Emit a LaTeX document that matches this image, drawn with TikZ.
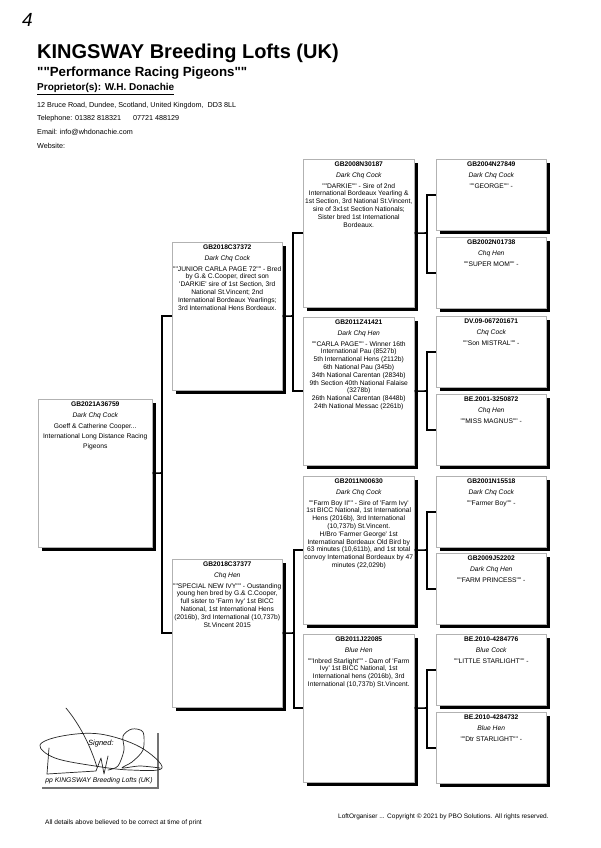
\documentclass[tikz,border=0pt]{standalone}
\usepackage{fontspec}
\setmainfont{Liberation Sans}[Ligatures=TeXOff]
\usetikzlibrary{shadows}
\newcommand{\pedtext}[6]{\parbox[c][#2][t]{#1}{\centering\fontsize{6.7}{#3}\selectfont\vspace*{2.7pt}{\bfseries #4}\\[\dimexpr10.7pt-#3\relax]{\itshape #5}\\[\dimexpr10.7pt-#3\relax]#6\par}}
\tikzset{
  pbox/.style={draw=black!30, line width=0.5pt, fill=white, inner sep=0pt, anchor=north west,
    drop shadow={shadow xshift=3.4pt, shadow yshift=-3.4pt, opacity=1, fill=black}},
  link/.style={line width=1.6pt, black},
  sig/.style={line width=0.7pt, black!85, line cap=round, line join=round},
  hdr/.style={anchor=base west, inner sep=0pt},
}
\begin{document}
\begin{tikzpicture}[x=1pt,y=-1pt]
\useasboundingbox (0,0) rectangle (600,848);
\fill[white] (0,0) rectangle (600,848);

% header
\node[hdr] (four) at (22,27) {\fontsize{19}{19}\selectfont\itshape 4};
\node[hdr] (title) at (37,58.3) {\fontsize{20}{20}\selectfont\bfseries KINGSWAY Breeding Lofts (UK)};
\node[hdr] (sub) at (37,76.5) {\fontsize{13.3}{14}\selectfont\bfseries ""Performance Racing Pigeons""};
\node[hdr] (prop) at (37,91) {\fontsize{10}{11}\selectfont\bfseries\underline{Proprietor(s): W.H. Donachie}};
\node[hdr] (addr) at (37,107.5) {\fontsize{7.2}{8}\selectfont 12 Bruce Road, Dundee, Scotland, United Kingdom,\ \ DD3 8LL};
\node[hdr] (tel) at (37,121) {\fontsize{7.2}{8}\selectfont Telephone: 01382 818321\hspace{12pt}07721 488129};
\node[hdr] (mail) at (37,134.5) {\fontsize{7.2}{8}\selectfont Email: info@whdonachie.com};
\node[hdr] (web) at (37,148) {\fontsize{7.2}{8}\selectfont Website:};

% generation 1
\node[pbox] (g1) at (38,399) {\pedtext{114pt}{148pt}{10.3pt}{GB2021A36759}{Dark Chq Cock}{Goeff \& Catherine Cooper...\\International Long Distance Racing\\Pigeons}};

% generation 2
\node[pbox] (g2a) at (172,242) {\pedtext{110pt}{148pt}{7.8pt}{GB2018C37372}{Dark Chq Cock}{""JUNIOR CARLA PAGE 72"" - Bred\\by G.\& C.Cooper, direct son\\'DARKIE' sire of 1st Section, 3rd\\National St.Vincent; 2nd\\International Bordeaux Yearlings;\\3rd International Hens Bordeaux.}};
\node[pbox] (g2b) at (172,559) {\pedtext{110pt}{148pt}{7.8pt}{GB2018C37377}{Chq Hen}{""SPECIAL NEW IVY"" - Oustanding\\young hen bred by G.\& C.Cooper,\\full sister to 'Farm Ivy' 1st BICC\\National, 1st International Hens\\(2016b), 3rd International (10,737b)\\St.Vincent 2015}};

% generation 3
\node[pbox] (g3a) at (303,159) {\pedtext{111pt}{148pt}{7.8pt}{GB2008N30187}{Dark Chq Cock}{""DARKIE"" - Sire of 2nd\\International Bordeaux Yearling \&\\1st Section, 3rd National St.Vincent,\\sire of 3x1st Section Nationals;\\Sister bred 1st International\\Bordeaux.}};
\node[pbox] (g3b) at (303,317) {\pedtext{111pt}{148pt}{7.8pt}{GB2011Z41421}{Dark Chq Hen}{""CARLA PAGE"" - Winner 16th\\International Pau (8527b)\\5th International Hens (2112b)\\6th National Pau (345b)\\34th National Carentan (2834b)\\9th Section 40th National Falaise\\(3278b)\\26th National Carentan (8448b)\\24th National Messac (2261b)}};
\node[pbox] (g3c) at (303,476) {\pedtext{111pt}{148pt}{7.8pt}{GB2011N00630}{Dark Chq Cock}{""Farm Boy II"" - Sire of 'Farm Ivy'\\1st BICC National, 1st International\\Hens (2016b), 3rd International\\(10,737b) St.Vincent.\\H/Bro 'Farmer George' 1st\\International Bordeaux Old Bird by\\63 minutes (10,611b), and 1st total\\convoy International Bordeaux by 47\\minutes (22,029b)}};
\node[pbox] (g3d) at (303,634) {\pedtext{111pt}{148pt}{7.8pt}{GB2011J22085}{Blue Hen}{""Inbred Starlight"" - Dam of 'Farm\\Ivy' 1st BICC National, 1st\\International hens (2016b), 3rd\\International (10,737b) St.Vincent.}};

% generation 4
\node[pbox] (g4a) at (436,159) {\pedtext{110pt}{71pt}{7.8pt}{GB2004N27849}{Dark Chq Cock}{""GEORGE"" -}};
\node[pbox] (g4b) at (436,237) {\pedtext{110pt}{71pt}{7.8pt}{GB2002N01738}{Chq Hen}{""SUPER MOM"" -}};
\node[pbox] (g4c) at (436,316) {\pedtext{110pt}{71pt}{7.8pt}{DV.09-067201671}{Chq Cock}{""Son MISTRAL"" -}};
\node[pbox] (g4d) at (436,394) {\pedtext{110pt}{71pt}{7.8pt}{BE.2001-3250872}{Chq Hen}{""MISS MAGNUS"" -}};
\node[pbox] (g4e) at (436,476) {\pedtext{110pt}{71pt}{7.8pt}{GB2001N15518}{Dark Chq Cock}{""Farmer Boy"" -}};
\node[pbox] (g4f) at (436,553) {\pedtext{110pt}{71pt}{7.8pt}{GB2009J52202}{Dark Chq Hen}{""FARM PRINCESS"" -}};
\node[pbox] (g4g) at (436,634) {\pedtext{110pt}{71pt}{7.8pt}{BE.2010-4284776}{Blue Cock}{""LITTLE STARLIGHT"" -}};
\node[pbox] (g4h) at (436,712) {\pedtext{110pt}{71pt}{7.8pt}{BE.2010-4284732}{Blue Hen}{""Dtr STARLIGHT"" -}};

% junctions
\coordinate (j1) at (162,473);
\coordinate (j2a) at (293,316);
\coordinate (j2b) at (294,633);
\coordinate (j3a) at (427,233);
\coordinate (j3b) at (427,391);
\coordinate (j3c) at (427,550);
\coordinate (j3d) at (427,708);

% connectors
\draw[link] (g1.east) -- (j1);
\draw[link] (g2a.west) -| (j1) |- (g2b.west);
\draw[link] (g2a.east) -- (j2a);
\draw[link] (g3a.west) -| (j2a) |- (g3b.west);
\draw[link] (g2b.east) -- (j2b);
\draw[link] (g3c.west) -| (j2b) |- (g3d.west);
\draw[link] (g3a.east) -- (j3a);
\draw[link] (g4a.west) -| (j3a) |- (g4b.west);
\draw[link] (g3b.east) -- (j3b);
\draw[link] (g4c.west) -| (j3b) |- (g4d.west);
\draw[link] (g3c.east) -- (j3c);
\draw[link] (g4e.west) -| (j3c) |- (g4f.west);
\draw[link] (g3d.east) -- (j3d);
\draw[link] (g4g.west) -| (j3d) |- (g4h.west);

% signature block
\draw[black!55, line width=1.2pt] (42,788) -- (158,788) -- (158,733);
\node[anchor=base west, inner sep=0pt] (signed) at (88,745) {\fontsize{7.5}{8}\selectfont\itshape Signed:};
\node[anchor=base] (pp) at (99,782) {\fontsize{6.8}{7}\selectfont\itshape pp KINGSWAY Breeding Lofts (UK)};
\draw[sig] (66,708) .. controls (80,725) and (90,745) .. (97,767);
\draw[sig] plot[smooth cycle, tension=0.6] coordinates {(40,745) (62,736) (100,734) (140,747) (162,768) (130,770) (95,766) (55,758)};
\draw[sig] (49,748) -- (47,774) -- (96,771) -- (101,758) -- (104,774) -- (108,756);
\draw[sig] plot[smooth] coordinates {(108,770) (118,766) (124,750) (123,736) (132,729) (143,732) (143,750) (132,762) (122,768) (140,766) (160,768)};

% footer
\node[hdr] (note) at (45,824) {\fontsize{6.6}{7}\selectfont All details above believed to be correct at time of print};
\node[hdr] (copy) at (338,818) {\fontsize{6.5}{7}\selectfont LoftOrganiser ... Copyright © 2021 by PBO Solutions. All rights reserved.};
\end{tikzpicture}
\end{document}
